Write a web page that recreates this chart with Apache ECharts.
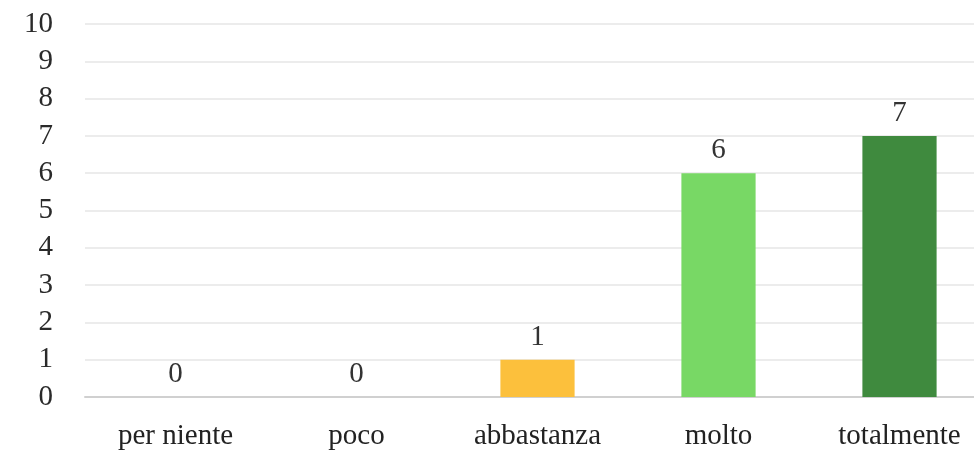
<!DOCTYPE html>
<html><head><meta charset="utf-8">
<script src="https://cdn.jsdelivr.net/npm/echarts@6/dist/echarts.min.js"></script>
<style>html,body{margin:0;padding:0;background:#fff;overflow:hidden}#c{width:974px;height:452px}</style>
</head><body><div id="c"></div>
<script>
const categories = ['per niente', 'poco', 'abbastanza', 'molto', 'totalmente'];
const values = [0, 0, 1, 6, 7];
const barColors = ['#FCC03C', '#FCC03C', '#FCC03C', '#78D865', '#3F8A3E'];
const yTicks = [0, 1, 2, 3, 4, 5, 6, 7, 8, 9, 10];

const font = '"Liberation Serif", "DejaVu Serif", serif';
const chart = echarts.init(document.getElementById('c'));
chart.setOption({
  animation: false,
  backgroundColor: '#fff',
  grid: { left: 85, width: 905, top: 24, height: 373, containLabel: false, outerBoundsMode: 'none' },
  xAxis: {
    type: 'category',
    data: categories,
    axisLine: { lineStyle: { color: '#d0d0d0', width: 2 } },
    axisTick: { show: false },
    axisLabel: { color: '#222', fontFamily: font, fontSize: 29, margin: 25 }
  },
  yAxis: {
    type: 'value',
    min: yTicks[0], max: yTicks[yTicks.length - 1], interval: 1,
    axisLine: { show: false },
    axisTick: { show: false },
    splitLine: { lineStyle: { color: '#ececec', width: 2 } },
    axisLabel: { color: '#2a2a2a', fontFamily: font, fontSize: 29, margin: 32 }
  },
  series: [{
    type: 'bar',
    barWidth: '41%',
    data: values.map((v, i) => ({ value: v, itemStyle: { color: barColors[i] } })),
    label: { show: true, position: 'top', distance: 8, color: '#333', fontFamily: font, fontSize: 29 }
  }]
});
</script></body></html>
